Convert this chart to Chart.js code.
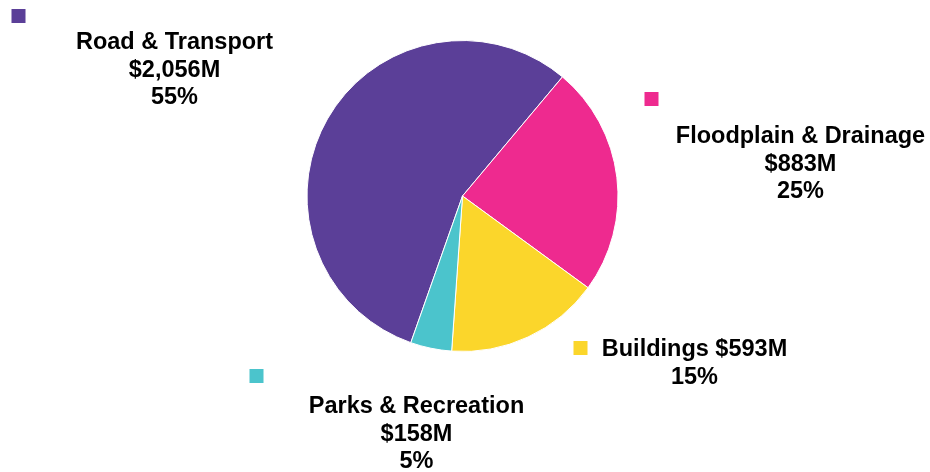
<!DOCTYPE html>
<html>
<head>
<meta charset="utf-8">
<title>Capital Works by Asset Class</title>
<script src="https://cdn.jsdelivr.net/npm/chart.js@4"></script>
<style>
  html, body { margin: 0; padding: 0; background: #fff; }
  #wrap { width: 930px; height: 472px; position: relative; }
</style>
</head>
<body>
<div id="wrap"><canvas id="assetChart"></canvas></div>
<script>
// Asset classes and spend ($M)
var categories = ['Road & Transport', 'Floodplain & Drainage', 'Buildings', 'Parks & Recreation'];
var spend = [2056, 883, 593, 158];
var shareLabels = ['55%', '25%', '15%', '5%'];
var sliceColours = ['#5B3F98', '#EE2A8F', '#FBD62B', '#4BC4CC'];

// Where each label block sits, relative to the pie centre (text centre x, first baseline y, key square)
var labelLayout = [
    { dx: -288, dy: -147, keyX: -451, keyY: -187, valueOnFirstLine: false },
    { dx: 338, dy: -53, keyX: 182, keyY: -104, valueOnFirstLine: false },
    { dx: 232, dy: 160, keyX: 111, keyY: 145, valueOnFirstLine: true },
    { dx: -46, dy: 217, keyX: -213, keyY: 173, valueOnFirstLine: false }
];

var total = spend.reduce(function (a, b) { return a + b; }, 0);
// first boundary (Road -> Floodplain) sits a little past the top, clockwise
var roadEnd = 40;
var startAngle = roadEnd - 360 * spend[0] / total;

function money(v) {
    return '$' + v.toLocaleString('en-US') + 'M';
}

var sliceLabels = {
    id: 'sliceLabels',
    afterDatasetsDraw: function (chart) {
        var ctx = chart.ctx;
        var arc = chart.getDatasetMeta(0).data[0];
        var cx = arc.x, cy = arc.y;
        var lineGap = 27.5;
        ctx.save();
        ctx.font = 'bold 23.5px "Liberation Sans", Arial, sans-serif';
        ctx.textAlign = 'center';
        ctx.textBaseline = 'alphabetic';
        categories.forEach(function (name, i) {
            var lay = labelLayout[i];
            var lines = lay.valueOnFirstLine
                ? [name + ' ' + money(spend[i]), shareLabels[i]]
                : [name, money(spend[i]), shareLabels[i]];
            ctx.fillStyle = sliceColours[i];
            ctx.fillRect(cx + lay.keyX, cy + lay.keyY, 14, 14);
            ctx.fillStyle = '#000';
            lines.forEach(function (txt, j) {
                ctx.fillText(txt, cx + lay.dx, cy + lay.dy + j * lineGap);
            });
        });
        ctx.restore();
    }
};

new Chart(document.getElementById('assetChart'), {
    type: 'pie',
    data: {
        labels: categories,
        datasets: [{
            data: spend,
            backgroundColor: sliceColours,
            borderColor: '#ffffff',
            borderWidth: 1
        }]
    },
    options: {
        responsive: true,
        maintainAspectRatio: false,
        animation: false,
        rotation: startAngle,
        layout: { padding: { top: 40, bottom: 120, left: 0, right: 5 } },
        plugins: {
            legend: { display: false },
            tooltip: { enabled: false }
        }
    },
    plugins: [sliceLabels]
});
</script>
</body>
</html>
